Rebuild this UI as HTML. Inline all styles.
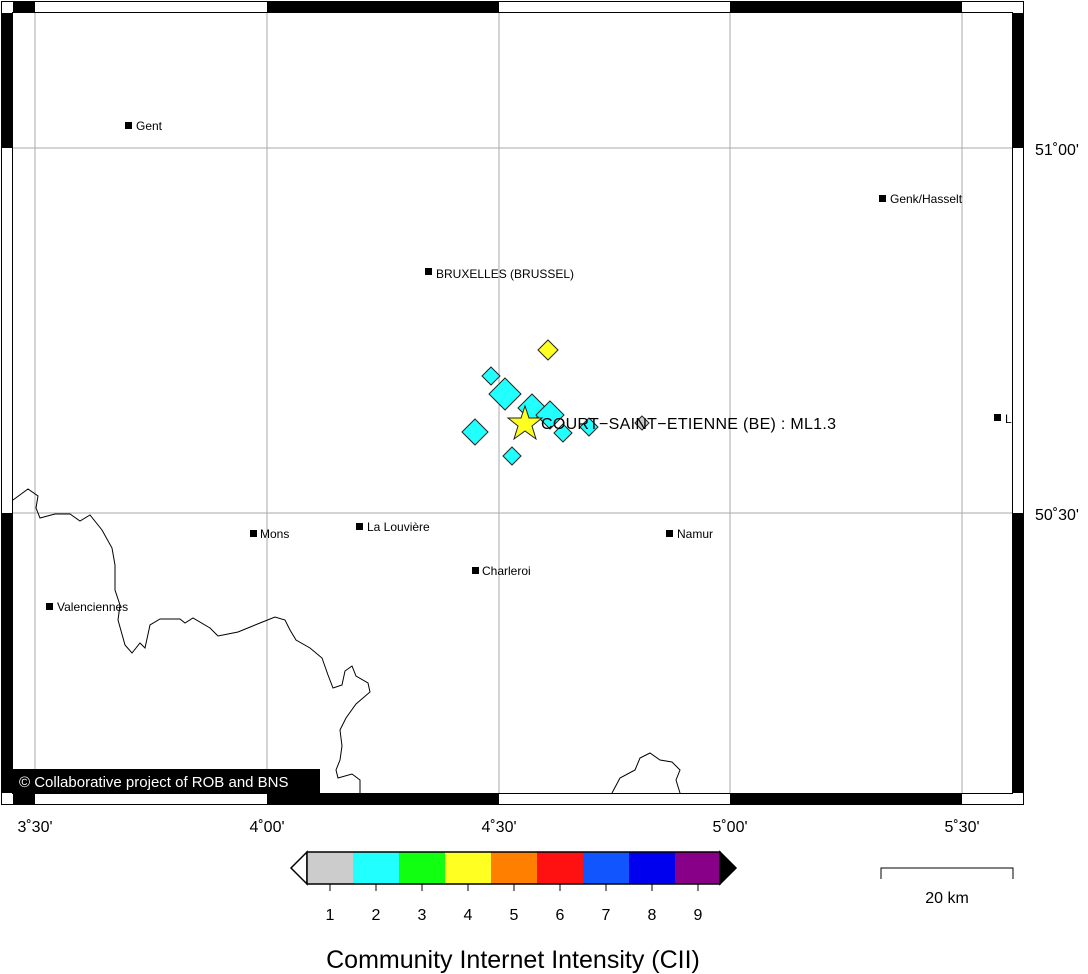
<!DOCTYPE html>
<html><head><style>body{margin:0;background:#fff}svg{display:block}</style></head><body>
<svg width="1088" height="974" viewBox="0 0 1088 974" font-family="Liberation Sans, sans-serif">
<rect x="0" y="0" width="1088" height="974" fill="#fff"/>
<g stroke="#aaa" stroke-width="1">
<line x1="35" y1="13" x2="35" y2="793"/><line x1="267" y1="13" x2="267" y2="793"/><line x1="499" y1="13" x2="499" y2="793"/><line x1="730" y1="13" x2="730" y2="793"/><line x1="962" y1="13" x2="962" y2="793"/>
<line x1="13" y1="148" x2="1012" y2="148"/><line x1="13" y1="513" x2="1012" y2="513"/>
</g>
<g fill="none" stroke="#000" stroke-width="1">
<polyline points="13,500 28,489 38,496 36,508 40,518 55,514 70,514 80,521 90,515 102,530 112,548 115,565 115,590 120,605 118,620 125,645 132,653 140,643 145,648 150,625 160,619 180,619 185,623 193,618 210,628 218,636 238,632 260,623 275,617 285,620 290,630 296,640 310,648 322,658 328,675 333,688 342,685 345,671 352,666 356,676 368,683 370,692 356,704 346,718 340,730 342,746 340,760 336,770 338,778 352,774 360,780 360,793"/>
<polyline points="612,793 620,778 635,770 640,758 650,753 660,760 672,762 680,770 676,780 680,793"/>
</g>
<g fill="#000">
<rect x="125" y="122" width="7" height="7"/><rect x="879" y="195" width="7" height="7"/><rect x="425" y="268" width="7" height="7"/><rect x="994" y="414" width="7" height="7"/><rect x="250" y="530" width="7" height="7"/><rect x="356" y="523" width="7" height="7"/><rect x="666" y="530" width="7" height="7"/><rect x="472" y="567" width="7" height="7"/><rect x="46" y="603" width="7" height="7"/>
</g>
<g font-size="12" fill="#000">
<text x="136" y="130">Gent</text><text x="890" y="203">Genk/Hasselt</text><text x="436" y="278">BRUXELLES (BRUSSEL)</text><text x="1005" y="423">L</text><text x="260" y="538">Mons</text><text x="367" y="531">La Louvière</text><text x="677" y="538">Namur</text><text x="482" y="575">Charleroi</text><text x="57" y="611">Valenciennes</text>
</g>
<g stroke="#222" stroke-width="1" fill="#22ffff">
<polygon points="548,340 558,350 548,360 538,350" fill="#ffff22"/>
<polygon points="491,367 500,376 491,385 482,376"/>
<polygon points="505,378 521,394 505,410 489,394"/>
<polygon points="532,394 546,408 532,422 518,408"/>
<polygon points="550,401 564,415 550,429 536,415"/>
<polygon points="563,424 572,433 563,442 554,433"/>
<polygon points="589,418 598,427 589,436 580,427"/>
<polygon points="475,419 488,432 475,445 462,432"/>
<polygon points="512,447 521,456 512,465 503,456"/>
<polygon points="642,416 649,423 642,430 635,423" fill="#ccc"/>
<polygon points="525,406 529,418 542,418 532,426 536,439 525,431 514,439 518,426 508,418 521,418" fill="#ffff22"/>
</g>
<text x="541" y="429" font-size="16" textLength="295">COURT−SAINT−ETIENNE (BE) : ML1.3</text>
<rect x="13" y="769" width="307" height="24" fill="#000"/>
<text x="19" y="787" font-size="15" fill="#fff">© Collaborative project of ROB and BNS</text>
<g stroke="#000" stroke-width="1">
<rect x="1.5" y="1.5" width="1022" height="803" fill="none"/>
<rect x="12.5" y="12.5" width="1000" height="781" fill="none"/>
</g>
<g fill="#000">
<rect x="13" y="1" width="22" height="12"/><rect x="267" y="1" width="232" height="12"/><rect x="730" y="1" width="232" height="12"/>
<rect x="13" y="793" width="22" height="12"/><rect x="267" y="793" width="232" height="12"/><rect x="730" y="793" width="232" height="12"/>
<rect x="1" y="13" width="12" height="135"/><rect x="1" y="513" width="12" height="280"/>
<rect x="1012" y="13" width="12" height="135"/><rect x="1012" y="513" width="12" height="280"/>
</g>
<g font-size="16" fill="#000" text-anchor="middle">
<text x="35" y="832">3˚30'</text><text x="267" y="832">4˚00'</text><text x="499" y="832">4˚30'</text><text x="730" y="832">5˚00'</text><text x="962" y="832">5˚30'</text>
</g>
<g font-size="16" fill="#000"><text x="1035" y="155">51˚00'</text><text x="1035" y="520">50˚30'</text></g>
<g stroke="#000" stroke-width="1.5">
<polygon points="307,852 291,868 307,884" fill="#fff"/>
<polygon points="720,852 736,868 720,884" fill="#000"/>
</g>
<g>
<rect x="307" y="852" width="46" height="32" fill="#cccccc"/><rect x="353" y="852" width="46" height="32" fill="#22ffff"/><rect x="399" y="852" width="46" height="32" fill="#11ff11"/><rect x="445" y="852" width="46" height="32" fill="#ffff22"/><rect x="491" y="852" width="46" height="32" fill="#ff8000"/><rect x="537" y="852" width="46" height="32" fill="#ff1111"/><rect x="583" y="852" width="46" height="32" fill="#1155ff"/><rect x="629" y="852" width="46" height="32" fill="#0000ee"/><rect x="675" y="852" width="45" height="32" fill="#880088"/>
<rect x="307" y="852" width="413" height="32" fill="none" stroke="#000" stroke-width="1.5"/>
</g>
<g stroke="#000"><line x1="330" y1="884" x2="330" y2="891"/><line x1="376" y1="884" x2="376" y2="891"/><line x1="422" y1="884" x2="422" y2="891"/><line x1="468" y1="884" x2="468" y2="891"/><line x1="514" y1="884" x2="514" y2="891"/><line x1="560" y1="884" x2="560" y2="891"/><line x1="606" y1="884" x2="606" y2="891"/><line x1="652" y1="884" x2="652" y2="891"/><line x1="698" y1="884" x2="698" y2="891"/></g>
<g font-size="16" text-anchor="middle"><text x="330" y="920">1</text><text x="376" y="920">2</text><text x="422" y="920">3</text><text x="468" y="920">4</text><text x="514" y="920">5</text><text x="560" y="920">6</text><text x="606" y="920">7</text><text x="652" y="920">8</text><text x="698" y="920">9</text></g>
<text x="513" y="968" font-size="25" text-anchor="middle">Community Internet Intensity (CII)</text>
<polyline points="881,879 881,868 1013,868 1013,879" fill="none" stroke="#000"/>
<text x="947" y="903" font-size="16" text-anchor="middle">20 km</text>
</svg>
</body></html>
